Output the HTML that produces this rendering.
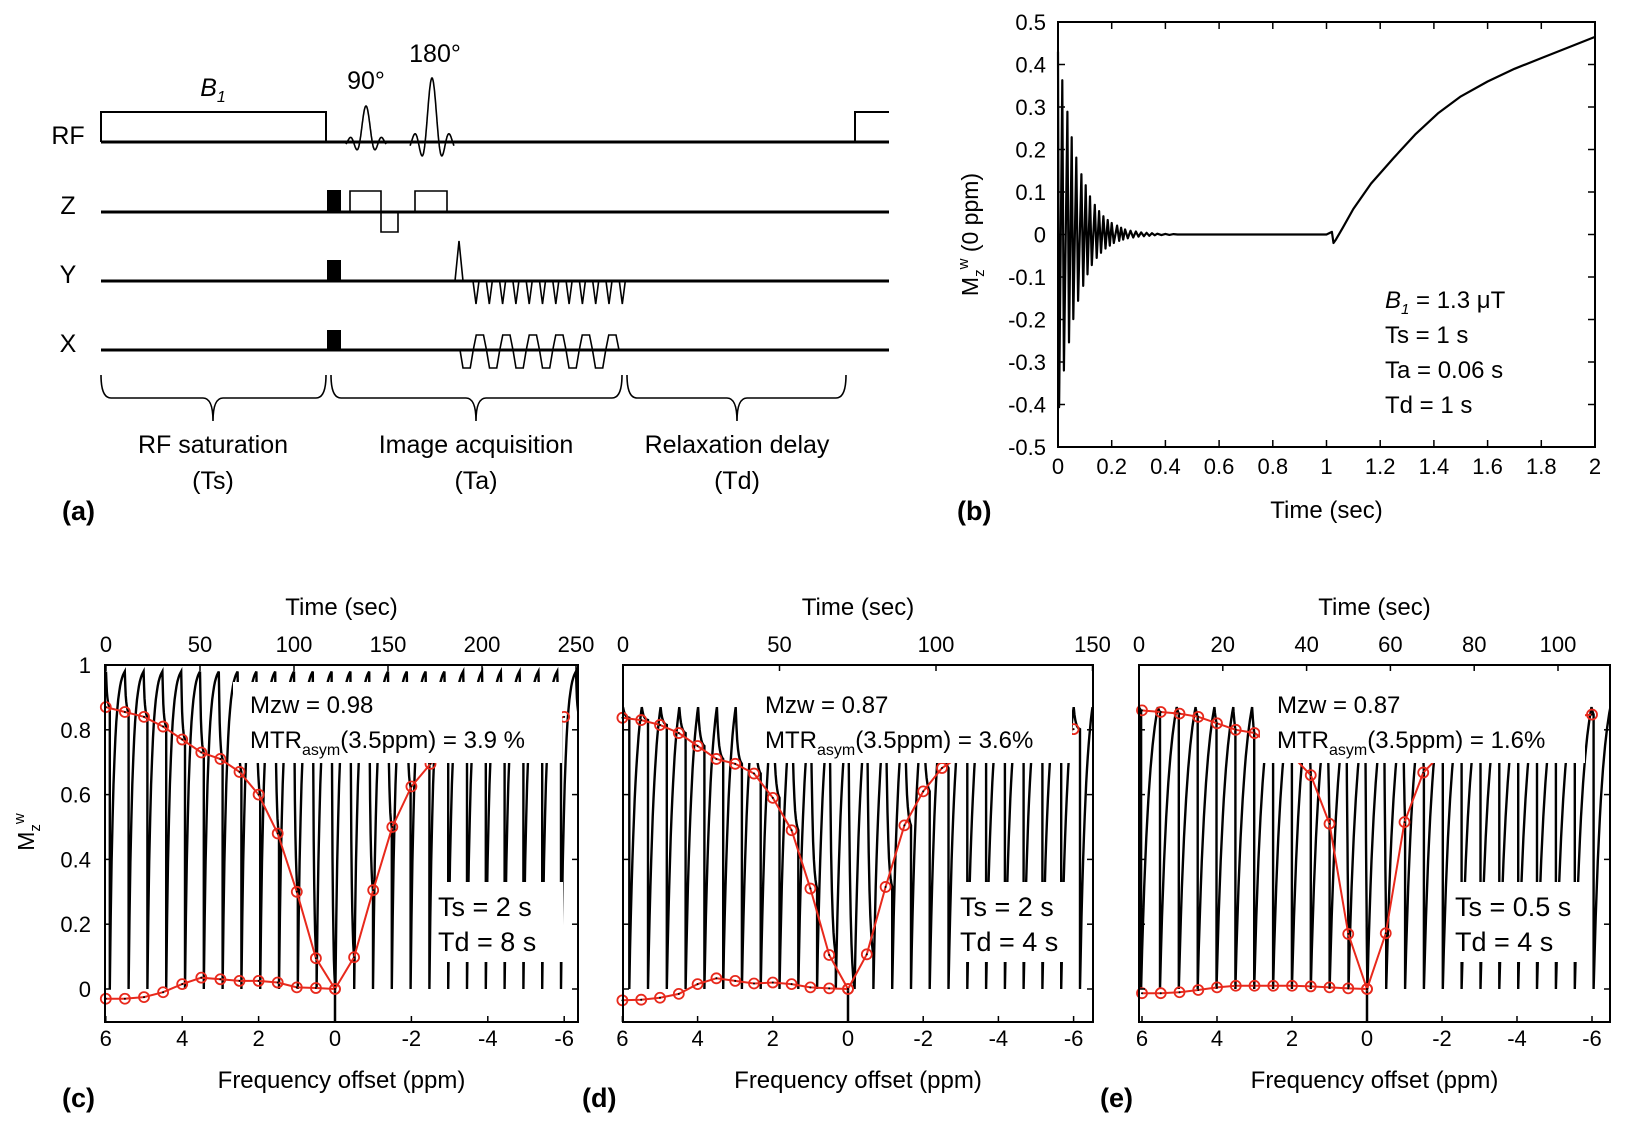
<!DOCTYPE html>
<html><head><meta charset="utf-8"><style>
body{margin:0;background:#fff;}
svg{display:block;font-family:"Liberation Sans",Arial,sans-serif;}
</style></head><body>
<svg id="fig" width="1628" height="1125" viewBox="0 0 1628 1125" xmlns="http://www.w3.org/2000/svg">
<rect width="1628" height="1125" fill="#fff"/>
<g id="panelA" stroke="#000" fill="none" stroke-width="2">
  <line x1="101" y1="142" x2="889" y2="142" stroke-width="3"/>
  <polyline points="101,142 101,112 326,112 326,142"/>
  <polyline points="855,142 855,112 889,112"/>
  <path id="sinc90" stroke-width="1.6"/>
  <path id="sinc180" stroke-width="1.6"/>
  <line x1="101" y1="212" x2="889" y2="212" stroke-width="3"/>
  <rect x="328" y="191" width="12" height="21" fill="#000"/>
  <polyline points="350,212 350,191 381,191 381,212 381,232 398,232 398,212 415,212 415,191 447,191 447,212" stroke-width="1.6"/>
  <line x1="101" y1="281" x2="889" y2="281" stroke-width="3"/>
  <rect x="328" y="261" width="12" height="20" fill="#000"/>
  <polyline points="455,281 459,241 463,281" stroke-width="1.6"/>
  <path id="blips" stroke-width="1.6"/>
  <line x1="101" y1="350" x2="889" y2="350" stroke-width="3"/>
  <rect x="328" y="331" width="12" height="19" fill="#000"/>
  <path id="epi" stroke-width="1.6"/>
  <path d="M101,375 Q101,398 111,398 L203,398 Q213,398 213,421 Q213,398 223,398 L316,398 Q326,398 326,375" stroke-width="1.6"/>
  <path d="M331,375 Q331,398 341,398 L466,398 Q476,398 476,421 Q476,398 486,398 L612,398 Q622,398 622,375" stroke-width="1.6"/>
  <path d="M627,375 Q627,398 637,398 L727,398 Q737,398 737,421 Q737,398 747,398 L836,398 Q846,398 846,375" stroke-width="1.6"/>
</g>
<g font-size="25" fill="#000">
  <text x="213" y="96" text-anchor="middle" font-style="italic">B<tspan font-size="16" dy="6">1</tspan></text>
  <text x="366" y="89" text-anchor="middle">90°</text>
  <text x="435" y="62" text-anchor="middle">180°</text>
  <text x="68" y="144" text-anchor="middle">RF</text>
  <text x="68" y="214" text-anchor="middle">Z</text>
  <text x="68" y="283" text-anchor="middle">Y</text>
  <text x="68" y="352" text-anchor="middle">X</text>
  <text x="213" y="453" text-anchor="middle">RF saturation</text>
  <text x="213" y="489" text-anchor="middle">(Ts)</text>
  <text x="476" y="453" text-anchor="middle">Image acquisition</text>
  <text x="476" y="489" text-anchor="middle">(Ta)</text>
  <text x="737" y="453" text-anchor="middle">Relaxation delay</text>
  <text x="737" y="489" text-anchor="middle">(Td)</text>
  <text x="62" y="520" font-weight="bold" font-size="27">(a)</text>
  <text x="957" y="520" font-weight="bold" font-size="27">(b)</text>
  <text x="62" y="1107" font-weight="bold" font-size="27">(c)</text>
  <text x="582" y="1107" font-weight="bold" font-size="27">(d)</text>
  <text x="1100" y="1107" font-weight="bold" font-size="27">(e)</text>
</g>
<g id="panelB"></g>
<g id="panelC"></g>
<g id="panelD"></g>
<g id="panelE"></g>
</svg>
<script>
// ---------- Panel (b) data ----------
const bYTicks = [0.5,0.4,0.3,0.2,0.1,0,-0.1,-0.2,-0.3,-0.4,-0.5];
const bXTicks = [0,0.2,0.4,0.6,0.8,1,1.2,1.4,1.6,1.8,2];
const bOscTimes = [0,0.004,0.016,0.022,0.035,0.041,0.051,0.057,0.068,0.075,0.087,0.094,0.103,0.11,0.119,0.126,0.137,0.144,0.153,0.16,0.169,0.177,0.185,0.193,0.2,0.208,0.22,0.228,0.235,0.243,0.25,0.26,0.27,0.28,0.29,0.30,0.31,0.32,0.33,0.34,0.35,0.36,0.37,0.385,0.40,0.415,0.43,0.445,0.46,0.6,0.8,1.0,1.02];
const bOscValues = [0.43,-0.406,0.363,-0.32,0.289,-0.254,0.229,-0.199,0.181,-0.156,0.142,-0.121,0.116,-0.094,0.09,-0.072,0.07,-0.055,0.055,-0.043,0.043,-0.033,0.034,-0.026,0.027,-0.02,0.021,-0.015,0.016,-0.012,0.012,-0.009,0.009,-0.007,0.007,-0.005,0.005,-0.004,0.004,-0.003,0.003,-0.002,0.002,-0.0015,0.0015,-0.001,0.001,0,0,0,0,0,0.006];
const bRecTimes = [1.026,1.035,1.06,1.1,1.166,1.25,1.33,1.415,1.5,1.6,1.7,1.8,1.9,2.0];
const bRecValues = [-0.02,-0.012,0.015,0.06,0.12,0.18,0.235,0.285,0.325,0.36,0.39,0.415,0.44,0.465];

// ---------- Panels (c)(d)(e) data ----------
const ppmOffsets = [6,5.5,5,4.5,4,3.5,3,2.5,2,1.5,1,0.5,0,-0.5,-1,-1.5,-2,-2.5,-3,-3.5,-4,-4.5,-5,-5.5,-6];
const asymOffsets = [6,5.5,5,4.5,4,3.5,3,2.5,2,1.5,1,0.5,0];
const zC = [0.87,0.855,0.84,0.81,0.77,0.73,0.71,0.67,0.60,0.48,0.30,0.095,0,0.098,0.305,0.50,0.625,0.695,0.74,0.765,0.785,0.80,0.815,0.825,0.84];
const asymC = [-0.03,-0.03,-0.025,-0.01,0.015,0.035,0.03,0.025,0.025,0.02,0.005,0.003,0];
const zD = [0.837,0.83,0.815,0.79,0.75,0.71,0.695,0.665,0.59,0.49,0.31,0.105,0,0.107,0.315,0.505,0.61,0.682,0.72,0.743,0.765,0.775,0.788,0.797,0.802];
const asymD = [-0.035,-0.033,-0.027,-0.015,0.015,0.033,0.025,0.017,0.02,0.015,0.005,0.002,0];
const zE = [0.86,0.855,0.85,0.84,0.82,0.80,0.79,0.75,0.72,0.66,0.51,0.17,0,0.172,0.515,0.668,0.728,0.76,0.80,0.80,0.825,0.837,0.84,0.842,0.847];
const asymE = [-0.013,-0.013,-0.01,-0.003,0.005,0.01,0.01,0.01,0.01,0.008,0.005,0.002,0];
const mzTicks = [0,0.2,0.4,0.6,0.8,1];
const ppmTicks = [6,4,2,0,-2,-4,-6];
const timeTicksC = [0,50,100,150,200,250];
const timeTicksD = [0,50,100,150];
const timeTicksE = [0,20,40,60,80,100];

const NS = "http://www.w3.org/2000/svg";
function mk(parent, tag, attrs, text){
  const e = document.createElementNS(NS, tag);
  for (const k in attrs) e.setAttribute(k, attrs[k]);
  if (text !== undefined) e.textContent = text;
  parent.appendChild(e);
  return e;
}

// ---- diagram shapes ----
(function(){
  function sinc(cx, base, h, w){
    let d = "";
    for (let i=0;i<=120;i++){
      const u = -3.2*Math.PI + i*6.4*Math.PI/120;
      const v = Math.abs(u)<1e-6?1:Math.sin(u)/u;
      const x = cx + u/(3.2*Math.PI)*w;
      d += (i?"L":"M") + x.toFixed(1) + "," + (base - v*h).toFixed(1);
    }
    return d;
  }
  document.getElementById('sinc90').setAttribute('d', sinc(366,142,36,20));
  document.getElementById('sinc180').setAttribute('d', sinc(432,142,64,22));
  let d = "";
  for (let i=0;i<12;i++){ const x=473+i*13.3; d+=`M${x},281 L${x+3},304 L${x+6},281 `; }
  document.getElementById('blips').setAttribute('d', d);
  let p = "M460,350 ";
  const w = 13.25;
  for (let i=0;i<12;i++){
    const x = 460 + i*w;
    const y = i%2===0 ? 368 : 335;
    p += `L${x+3},${y} L${x+w-3},${y} L${x+w},350 `;
  }
  document.getElementById('epi').setAttribute('d', p);
})();

// ---- Panel (b) ----
(function(){
  const g = document.getElementById('panelB');
  const L=1058,R=1595,T=22,B=447;
  const xS = v => L + (v-0)/2*(R-L);
  const yS = v => T + (0.5-v)/1*(B-T);
  bYTicks.forEach(v=>{
    const t = mk(g,'text',{x:L-12,y:yS(v)+8,'text-anchor':'end','font-size':22},String(v));
    
    
    mk(g,'line',{x1:L,x2:L+7,y1:yS(v),y2:yS(v),stroke:'#000','stroke-width':1.5});
    mk(g,'line',{x1:R,x2:R-7,y1:yS(v),y2:yS(v),stroke:'#000','stroke-width':1.5});
  });
  bXTicks.forEach(v=>{
    const t = mk(g,'text',{x:xS(v),y:B+27,'text-anchor':'middle','font-size':22},String(v));
    
    
    mk(g,'line',{x1:xS(v),x2:xS(v),y1:B,y2:B-7,stroke:'#000','stroke-width':1.5});
    mk(g,'line',{x1:xS(v),x2:xS(v),y1:T,y2:T+7,stroke:'#000','stroke-width':1.5});
  });
  const box = mk(g,'rect',{x:L,y:T,width:R-L,height:B-T,fill:'none',stroke:'#000','stroke-width':2});
  
  
  let d = "";
  bOscTimes.forEach((t,i)=>{ d += (i?"L":"M")+xS(t).toFixed(1)+","+yS(bOscValues[i]).toFixed(1); });
  bRecTimes.forEach((t,i)=>{ d += "L"+xS(t).toFixed(1)+","+yS(bRecValues[i]).toFixed(1); });
  const line = mk(g,'path',{d:d,fill:'none',stroke:'#000','stroke-width':2.2,'stroke-linejoin':'round'});
  
  
  const xt = mk(g,'text',{x:(L+R)/2,y:518,'text-anchor':'middle','font-size':24},'Time (sec)');
  
  
  const yt = mk(g,'text',{x:0,y:0,'text-anchor':'middle','font-size':23,transform:`translate(978,${(T+B)/2}) rotate(-90)`});
  
  
  yt.innerHTML = 'M<tspan font-size="15" dy="6">z</tspan><tspan font-size="15" dy="-16">w</tspan><tspan dy="10"> (0 ppm)</tspan>';
  const tb = mk(g,'text',{x:1385,y:308,'font-size':24});
  
  
  tb.innerHTML = '<tspan font-style="italic">B</tspan><tspan font-style="italic" font-size="15" dy="6">1</tspan><tspan dy="-6"> = 1.3 μT</tspan>';
  ['Ts = 1 s','Ta = 0.06 s','Td = 1 s'].forEach((s,i)=>{
    const t = mk(g,'text',{x:1385,y:308+35*(i+1),'font-size':24},s);
    
    
  });
})();

// ---- Panels (c)(d)(e) ----
function zPanel(id, cfg, zVals, asymVals, timeTicks){
  const g = document.getElementById(id);
  const {L,R,T,B,p0,pS,t0,tS,Ts,Td,Mzw} = cfg;
  const y0 = 989, yU = 324;
  const yS = v => y0 - v*yU;
  const xP = p => p0 - p*pS;
  const xT = t => t0 + t*tS;
  const clipId = id+'clip';
  const defs = mk(g,'defs',{});
  const cp = mk(defs,'clipPath',{id:clipId});
  mk(cp,'rect',{x:L,y:T,width:R-L,height:B-T});
  const T1 = 2.0, tau = 0.6;
  let d = "";
  let first = true;
  const N = zVals.length;
  for (let i=0;i<N+1;i++){
    const Z = zVals[Math.min(i,N-1)];
    const ts = i*(Ts+Td);
    for (let k=0;k<=8;k++){
      const t = Ts*k/8;
      const f = (Math.exp(-t/tau)-Math.exp(-Ts/tau))/(1-Math.exp(-Ts/tau));
      const m = Z + (Mzw - Z)*f;
      d += (first?"M":"L") + xT(ts+t).toFixed(1)+","+yS(m).toFixed(1); first=false;
    }
    d += "L"+xT(ts+Ts).toFixed(1)+","+yS(0).toFixed(1);
    for (let k=1;k<=16;k++){
      const t = Td*k/16;
      const m = Mzw*(1-Math.exp(-t/T1))/(1-Math.exp(-Td/T1));
      d += "L"+xT(ts+Ts+t).toFixed(1)+","+yS(m).toFixed(1);
    }
  }
  const tr = mk(g,'path',{d:d,fill:'none',stroke:'#000','stroke-width':2.4,'clip-path':`url(#${clipId})`});
  
  
  mk(g,'line',{x1:xP(0),x2:xP(0),y1:yS(0),y2:B,stroke:'#000','stroke-width':2.5});
  let zd = "";
  ppmOffsets.forEach((p,i)=>{ zd += (i?"L":"M")+xP(p).toFixed(1)+","+yS(zVals[i]).toFixed(1); });
  const zl = mk(g,'path',{d:zd,fill:'none',stroke:'#e8291c','stroke-width':2});
  
  
  let ad = "";
  asymOffsets.forEach((p,i)=>{ ad += (i?"L":"M")+xP(p).toFixed(1)+","+yS(asymVals[i]).toFixed(1); });
  const al = mk(g,'path',{d:ad,fill:'none',stroke:'#e8291c','stroke-width':2});
  
  
  function marker(x,y,name){
    const c = mk(g,'circle',{cx:x,cy:y,r:5,fill:'none',stroke:'#e8291c','stroke-width':1.8});
    
    
    mk(g,'circle',{cx:x,cy:y,r:1,fill:'#000'});
  }
  ppmOffsets.forEach((p,i)=>marker(xP(p),yS(zVals[i]),'z-spectrum-point'));
  asymOffsets.forEach((p,i)=>marker(xP(p),yS(asymVals[i]),'mtr-asym-point'));
  const b1 = mk(g,'rect',{x:cfg.bx1,y:cfg.by1,width:cfg.bw1,height:cfg.bh1,fill:'#fff'});
  
  
  const b2 = mk(g,'rect',{x:cfg.bx2,y:882,width:cfg.bw2,height:80,fill:'#fff'});
  
  
  const tA = mk(g,'text',{x:cfg.tx1,y:713,'font-size':24},'Mzw = '+cfg.mzwText);
  
  
  const tB = mk(g,'text',{x:cfg.tx1,y:748,'font-size':24});
  
  
  tB.innerHTML = 'MTR<tspan font-size="16" dy="7">asym</tspan><tspan dy="-7">(3.5ppm) = '+cfg.mtrText+'</tspan>';
  const tC = mk(g,'text',{x:cfg.tx2,y:916,'font-size':27},cfg.tsText);
  
  
  const tD = mk(g,'text',{x:cfg.tx2,y:951,'font-size':27},cfg.tdText);
  
  
  const fr = mk(g,'rect',{x:L,y:T,width:R-L,height:B-T,fill:'none',stroke:'#000','stroke-width':2});
  
  
  mzTicks.forEach(v=>{
    mk(g,'line',{x1:L,x2:L+6,y1:yS(v),y2:yS(v),stroke:'#000','stroke-width':1.5});
    mk(g,'line',{x1:R,x2:R-6,y1:yS(v),y2:yS(v),stroke:'#000','stroke-width':1.5});
    if (cfg.yLabels){
      const t = mk(g,'text',{x:L-14,y:yS(v)+8,'text-anchor':'end','font-size':22},String(v));
      
      
    }
  });
  ppmTicks.forEach(p=>{
    mk(g,'line',{x1:xP(p),x2:xP(p),y1:B,y2:B-6,stroke:'#000','stroke-width':1.5});
    const t = mk(g,'text',{x:xP(p),y:B+24,'text-anchor':'middle','font-size':22},String(p));
    
    
  });
  timeTicks.forEach(v=>{
    mk(g,'line',{x1:xT(v),x2:xT(v),y1:T,y2:T+6,stroke:'#000','stroke-width':1.5});
    const t = mk(g,'text',{x:xT(v),y:T-13,'text-anchor':'middle','font-size':22},String(v));
    
    
  });
  const xt = mk(g,'text',{x:(L+R)/2,y:1088,'text-anchor':'middle','font-size':24},'Frequency offset (ppm)');
  
  
  const tt = mk(g,'text',{x:(L+R)/2,y:615,'text-anchor':'middle','font-size':24},'Time (sec)');
  
  
  if (cfg.yLabels){
    const yt = mk(g,'text',{x:0,y:0,'text-anchor':'middle','font-size':23,transform:'translate(34,832) rotate(-90)'});
    
    
    yt.innerHTML = 'M<tspan font-size="15" dy="6">z</tspan><tspan font-size="15" dy="-16">w</tspan>';
  }
}
zPanel('panelC',{L:105,R:578,T:665,B:1022,p0:335,pS:38.2,t0:106,tS:1.88,Ts:2,Td:8,Mzw:0.98,
  bx1:233,by1:682,bw1:329,bh1:81,bx2:433,bw2:130,tx1:250,tx2:438,
  mzwText:'0.98',mtrText:'3.9 %',tsText:'Ts = 2 s',tdText:'Td = 8 s',yLabels:true},zC,asymC,timeTicksC);
zPanel('panelD',{L:623,R:1093,T:665,B:1022,p0:848,pS:37.6,t0:623,tS:3.13,Ts:2,Td:4,Mzw:0.87,
  bx1:748,by1:666,bw1:324,bh1:97,bx2:957,bw2:115,tx1:765,tx2:960,
  mzwText:'0.87',mtrText:'3.6%',tsText:'Ts = 2 s',tdText:'Td = 4 s',yLabels:false},zD,asymD,timeTicksD);
zPanel('panelE',{L:1139,R:1610,T:665,B:1022,p0:1367,pS:37.5,t0:1139,tS:4.19,Ts:0.5,Td:4,Mzw:0.87,
  bx1:1260,by1:666,bw1:325,bh1:97,bx2:1450,bw2:135,tx1:1277,tx2:1455,
  mzwText:'0.87',mtrText:'1.6%',tsText:'Ts = 0.5 s',tdText:'Td = 4 s',yLabels:false},zE,asymE,timeTicksE);
</script>
</body></html>
